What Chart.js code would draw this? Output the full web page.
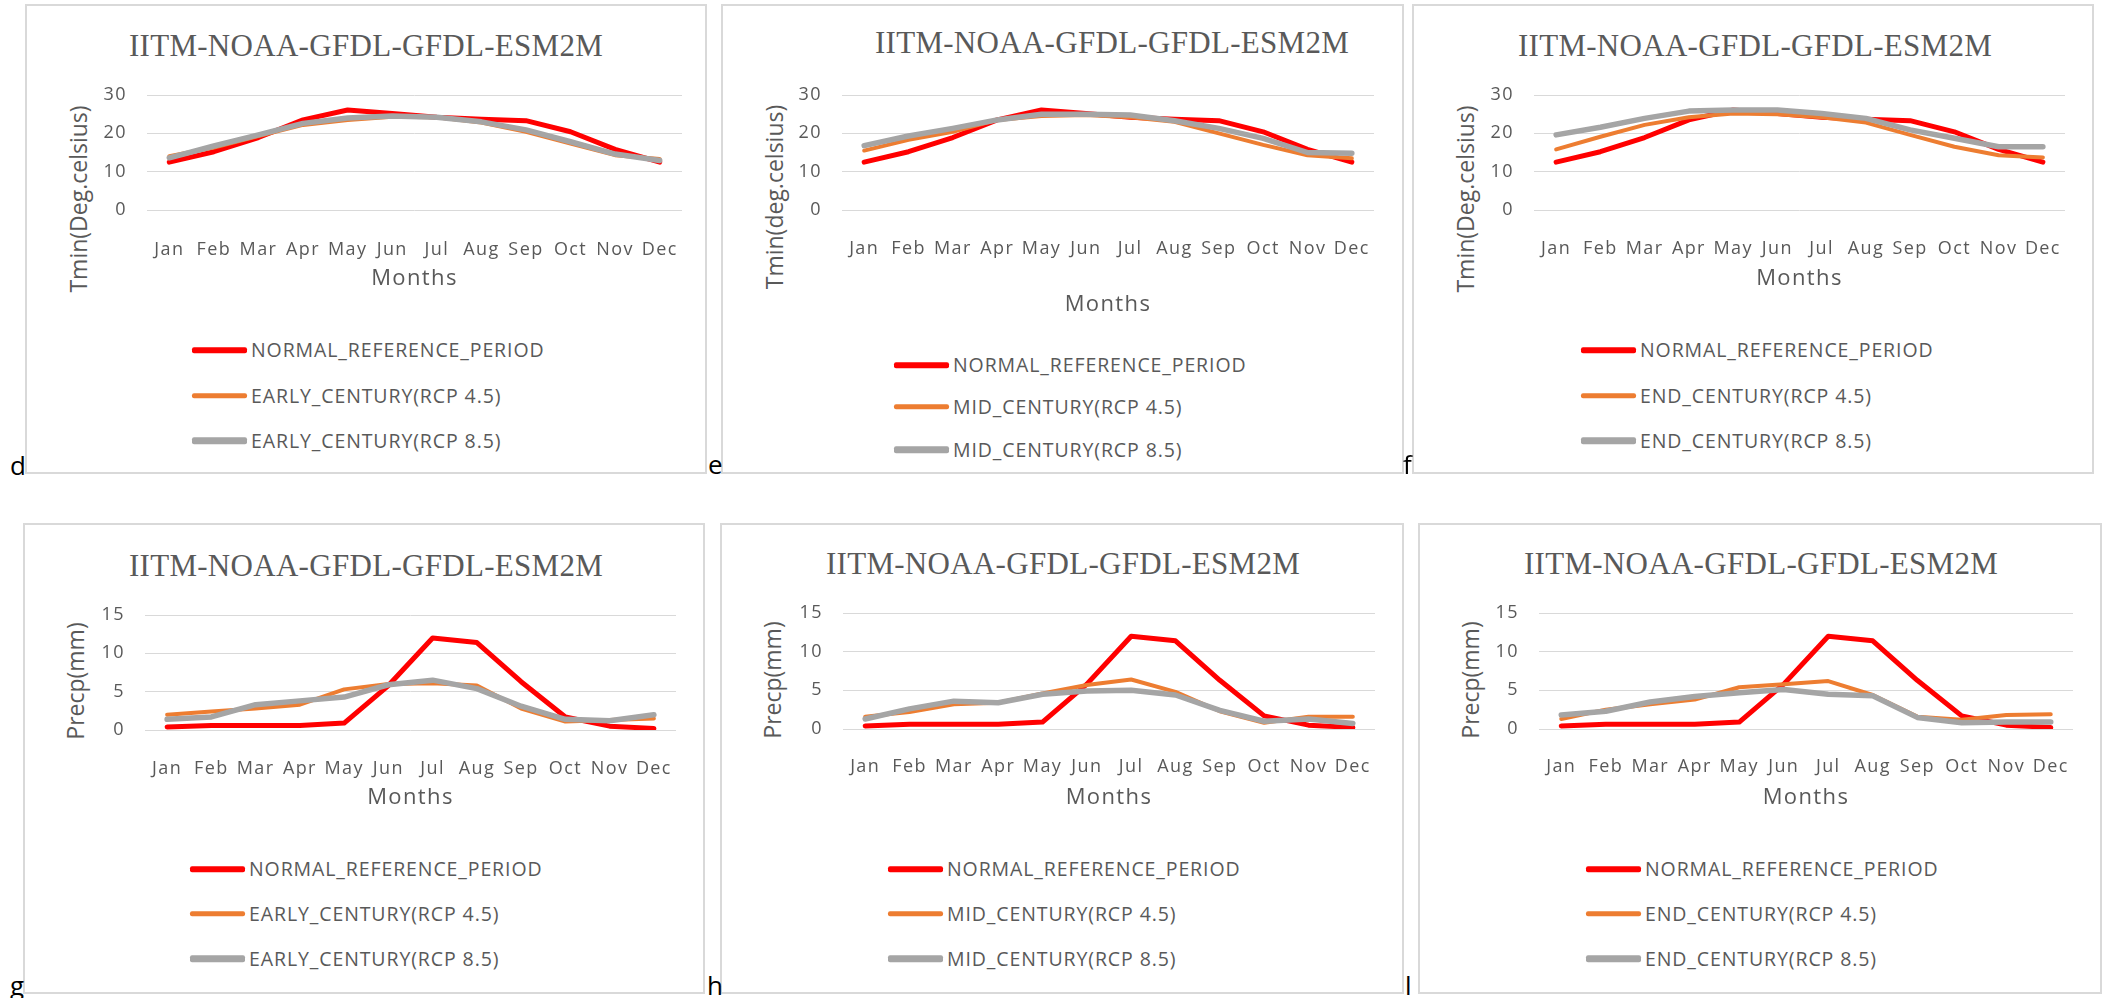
<!DOCTYPE html>
<html><head><meta charset="utf-8">
<script src="https://cdn.jsdelivr.net/npm/chart.js@4.4.1/dist/chart.umd.min.js"></script>
<style>
html,body{margin:0;padding:0;background:#fff;width:2105px;height:998px;overflow:hidden;position:relative;font-family:'Open Sans',sans-serif;}
.frame{position:absolute;border:2px solid #d9d9d9;box-sizing:border-box;background:#fff;}
canvas{position:absolute;}
.t{position:absolute;white-space:nowrap;color:#595959;line-height:1;}
.title{font-family:'Liberation Serif',serif;font-size:31px;letter-spacing:0.3px;transform:translate(-50%,-50%);}
.ytitle{font-size:23px;transform:translate(-50%,-50%) rotate(-90deg);}
.leg{position:absolute;display:flex;align-items:center;color:#595959;font-size:19.5px;letter-spacing:0.9px;white-space:nowrap;line-height:1;transform:translateY(-50%);}
.leg span.ln{display:inline-block;width:55px;margin-right:4px;border-radius:2px;}
.tag{position:absolute;font-size:26px;color:#000;line-height:1;}
</style></head><body>
<script>
// ---------- data ----------
const months = ['Jan','Feb','Mar','Apr','May','Jun','Jul','Aug','Sep','Oct','Nov','Dec'];
const modelName = 'IITM-NOAA-GFDL-GFDL-ESM2M';
const xTitle = 'Months';
const tminTitleA = 'Tmin(Deg.celsius)';
const tminTitleB = 'Tmin(deg.celsius)';
const precTitle = 'Precp(mm)';
const tminTicks = [0, 10, 20, 30];
const precTicks = [0, 5, 10, 15];

const nameNormal = 'NORMAL_REFERENCE_PERIOD';
const nameEarly45 = 'EARLY_CENTURY(RCP 4.5)';
const nameEarly85 = 'EARLY_CENTURY(RCP 8.5)';
const nameMid45 = 'MID_CENTURY(RCP 4.5)';
const nameMid85 = 'MID_CENTURY(RCP 8.5)';
const nameEnd45 = 'END_CENTURY(RCP 4.5)';
const nameEnd85 = 'END_CENTURY(RCP 8.5)';

const tminNormal  = [12.5, 15.2, 18.9, 23.5, 26.1, 25.2, 24.2, 23.7, 23.3, 20.4, 15.8, 12.5];
const tminEarly45 = [14.0, 16.3, 19.3, 22.2, 23.5, 24.3, 24.2, 22.8, 20.4, 17.3, 14.3, 13.3];
const tminEarly85 = [13.6, 16.7, 19.6, 22.6, 24.0, 24.5, 24.2, 23.0, 20.9, 17.8, 14.6, 12.9];
const tminMid45   = [15.5, 18.3, 20.4, 23.5, 24.5, 24.8, 24.2, 23.0, 20.0, 17.0, 14.3, 13.5];
const tminMid85   = [16.8, 19.3, 21.3, 23.5, 25.0, 25.0, 24.8, 23.3, 21.3, 18.7, 15.0, 14.8];
const tminEnd45   = [15.8, 19.1, 22.2, 24.2, 25.2, 25.0, 24.2, 22.8, 19.6, 16.5, 14.3, 13.7];
const tminEnd85   = [19.6, 21.6, 23.9, 25.8, 26.1, 26.1, 25.2, 23.9, 20.9, 18.7, 16.5, 16.5];

const precNormal  = [0.4, 0.6, 0.6, 0.6, 0.9, 5.8, 12.0, 11.4, 6.3, 1.7, 0.5, 0.2];
const precEarly45 = [2.0, 2.4, 2.8, 3.3, 5.3, 6.0, 6.1, 5.8, 2.8, 1.1, 1.3, 1.5];
const precEarly85 = [1.4, 1.7, 3.3, 3.8, 4.3, 5.9, 6.5, 5.4, 3.1, 1.4, 1.2, 2.0];
const precMid45   = [1.6, 2.2, 3.2, 3.4, 4.6, 5.7, 6.4, 4.8, 2.3, 0.8, 1.6, 1.6];
const precMid85   = [1.3, 2.6, 3.6, 3.4, 4.5, 4.9, 5.0, 4.4, 2.4, 1.0, 1.3, 0.7];
const precEnd45   = [1.3, 2.5, 3.2, 3.8, 5.4, 5.8, 6.2, 4.4, 1.6, 1.2, 1.8, 1.9];
const precEnd85   = [1.8, 2.3, 3.5, 4.2, 4.7, 5.1, 4.5, 4.3, 1.5, 0.8, 0.9, 0.9];

// ---------- styles ----------
const seriesStyle = [
  {color:'#ff0000', width:5, order:3},
  {color:'#ed7d31', width:4, order:2},
  {color:'#a5a5a5', width:5.5, order:1}
];
const TXT = '#595959';

// ---------- layout ----------
const panels = [
  {tag:'d', tagPos:[10,452], frame:[25,4,707,474], plot:[147,95,682,210], labY:242, monY:279, titlePos:[366,45], yTitlePos:[78,199], legX:192, legY:[350,396,441],
   yTitle:tminTitleA, ticks:tminTicks, series:[[nameNormal,tminNormal],[nameEarly45,tminEarly45],[nameEarly85,tminEarly85]]},
  {tag:'e', tagPos:[708,451], frame:[721,4,1404,474], plot:[842,95,1374,210], labY:241, monY:305, titlePos:[1112,42], yTitlePos:[774,197], legX:894, legY:[365,407,450],
   yTitle:tminTitleB, ticks:tminTicks, series:[[nameNormal,tminNormal],[nameMid45,tminMid45],[nameMid85,tminMid85]]},
  {tag:'f', tagPos:[1403,451], frame:[1412,4,2094,474], plot:[1534,95,2065,210], labY:241, monY:279, titlePos:[1755,45], yTitlePos:[1465,199], legX:1581, legY:[350,396,441],
   yTitle:tminTitleA, ticks:tminTicks, series:[[nameNormal,tminNormal],[nameEnd45,tminEnd45],[nameEnd85,tminEnd85]]},
  {tag:'g', tagPos:[10,972], frame:[23,523,705,994], plot:[145,615,676,730], labY:761, monY:798, titlePos:[366,565], yTitlePos:[75,681], legX:190, legY:[869,914,959],
   yTitle:precTitle, ticks:precTicks, series:[[nameNormal,precNormal],[nameEarly45,precEarly45],[nameEarly85,precEarly85]]},
  {tag:'h', tagPos:[707,972], frame:[720,523,1404,994], plot:[843,613,1375,729], labY:759, monY:798, titlePos:[1063,563], yTitlePos:[772,680], legX:888, legY:[869,914,959],
   yTitle:precTitle, ticks:precTicks, series:[[nameNormal,precNormal],[nameMid45,precMid45],[nameMid85,precMid85]]},
  {tag:'l', tagPos:[1405,972], frame:[1418,523,2102,994], plot:[1539,613,2073,729], labY:759, monY:798, titlePos:[1761,563], yTitlePos:[1470,680], legX:1586, legY:[869,914,959],
   yTitle:precTitle, ticks:precTicks, series:[[nameNormal,precNormal],[nameEnd45,precEnd45],[nameEnd85,precEnd85]]}
];

Chart.defaults.font.family = "'Open Sans', sans-serif";

// slightly wider text spacing on the canvas, like the reference
const spacingPlugin = {
  id: 'spacing',
  beforeUpdate(ch) { ch.ctx.letterSpacing = '1.4px'; },
  beforeDraw(ch) { ch.ctx.letterSpacing = '1.4px'; }
};

function addDiv(cls, text, x, y) {
  const d = document.createElement('div');
  d.className = cls; d.textContent = text;
  d.style.left = x + 'px'; d.style.top = y + 'px';
  document.body.appendChild(d);
  return d;
}

panels.forEach(p => {
  const [fx0, fy0, fx1, fy1] = p.frame;
  const W = fx1 - fx0, H = fy1 - fy0;
  const fr = document.createElement('div');
  fr.className = 'frame';
  Object.assign(fr.style, {left: fx0+'px', top: fy0+'px', width: W+'px', height: H+'px'});
  document.body.appendChild(fr);

  addDiv('tag', p.tag, p.tagPos[0], p.tagPos[1]);
  addDiv('t title', modelName, p.titlePos[0], p.titlePos[1]);
  addDiv('t ytitle', p.yTitle, p.yTitlePos[0], p.yTitlePos[1]);

  p.series.forEach((s, i) => {
    const row = document.createElement('div');
    row.className = 'leg';
    row.style.left = p.legX + 'px'; row.style.top = p.legY[i] + 'px';
    const ln = document.createElement('span');
    ln.className = 'ln';
    ln.style.height = Math.round(seriesStyle[i].width + 1) + 'px';
    ln.style.background = seriesStyle[i].color;
    const tx = document.createElement('span');
    tx.textContent = s[0];
    row.appendChild(ln); row.appendChild(tx);
    document.body.appendChild(row);
  });

  const c = document.createElement('canvas');
  c.width = W; c.height = H;
  Object.assign(c.style, {left: fx0+'px', top: fy0+'px', width: W+'px', height: H+'px'});
  document.body.appendChild(c);

  const [px0, py0, px1, py1] = p.plot;
  const tickSize = 18, monSize = 22;
  const xScaleH = p.monY + monSize * 1.2 / 2 - py1;
  const tickMax = p.ticks[p.ticks.length - 1];
  const step = p.ticks[1] - p.ticks[0];

  new Chart(c, {
    type: 'line',
    plugins: [spacingPlugin],
    data: {
      labels: months,
      datasets: p.series.map((s, i) => ({
        label: s[0], data: s[1],
        borderColor: seriesStyle[i].color, backgroundColor: seriesStyle[i].color,
        borderWidth: seriesStyle[i].width, order: seriesStyle[i].order,
        pointRadius: 0, tension: 0, fill: false,
        borderJoinStyle: 'round', borderCapStyle: 'round'
      }))
    },
    options: {
      responsive: false, animation: false, devicePixelRatio: 1,
      layout: {padding: {left: 0, top: py0 - fy0, right: fx1 - px1, bottom: (fy1 - py1) - xScaleH}},
      plugins: {legend: {display: false}, tooltip: {enabled: false}, title: {display: false}},
      scales: {
        x: {
          offset: true,
          grid: {display: false}, border: {display: false},
          ticks: {color: TXT, font: {size: tickSize}, padding: p.labY - py1 - tickSize * 1.2 / 2, maxRotation: 0, autoSkip: false},
          title: {display: true, text: xTitle, color: TXT, font: {size: monSize}, padding: 0},
          afterFit: s => { s.height = xScaleH; }
        },
        y: {
          min: p.ticks[0], max: tickMax,
          ticks: {stepSize: step, color: TXT, font: {size: tickSize}, padding: 20},
          grid: {color: '#d9d9d9', lineWidth: 1, drawTicks: false},
          border: {display: false},
          afterFit: s => { s.width = px0 - fx0; }
        }
      }
    }
  });
});
</script>
</body></html>
